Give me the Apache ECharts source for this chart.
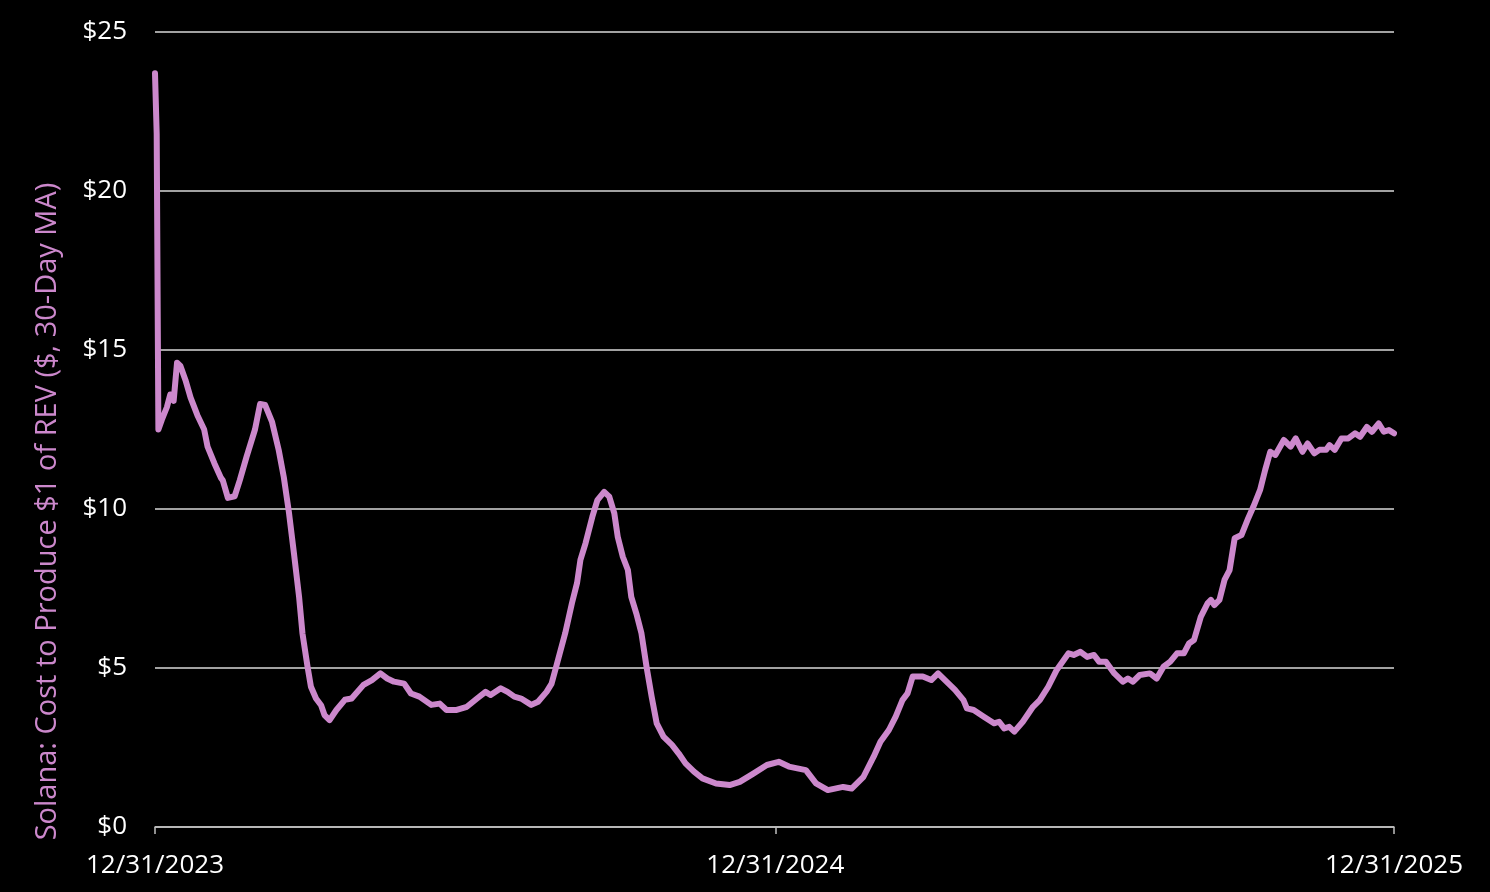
<!DOCTYPE html>
<html>
<head>
<meta charset="utf-8">
<title>Solana: Cost to Produce $1 of REV</title>
<script src="https://cdn.jsdelivr.net/npm/echarts@6/dist/echarts.min.js"></script>
<style>
  html, body { margin: 0; padding: 0; background: #000; }
  #chart { width: 1490px; height: 892px; }
</style>
</head>
<body>
<div id="chart"></div>
<script>
// days since 12/31/2023 and the 30-day MA cost value ($)
const startDate = '2023-12-31'
const dayOffsets = [
  0, 1, 2, 4, 7, 9, 11, 13, 15, 18, 21, 25, 29, 31, 35, 39, 40, 43, 47, 50,
  54, 59, 62, 65, 69, 73, 76, 79, 82, 85, 87, 90, 92, 95, 98, 100, 103, 107, 112, 116,
  123, 128, 133, 137, 141, 147, 151, 156, 163, 168, 172, 178, 184, 190, 195, 198, 204, 208, 212, 216,
  222, 226, 231, 234, 237, 242, 246, 249, 251, 254, 258, 261, 265, 268, 271, 273, 276, 279, 281, 284,
  287, 290, 293, 296, 300, 305, 309, 313, 318, 323, 331, 339, 345, 353, 361, 368, 374, 384, 390, 397,
  406, 411, 418, 424, 428, 433, 437, 441, 444, 447, 453, 458, 462, 467, 472, 477, 479, 483, 489, 495,
  498, 501, 504, 507, 512, 518, 522, 527, 532, 539, 542, 546, 550, 554, 557, 561, 566, 571, 574, 577,
  581, 587, 591, 595, 599, 603, 607, 610, 613, 617, 621, 623, 625, 628, 631, 634, 637, 641, 645, 648,
  652, 655, 658, 661, 666, 670, 673, 677, 680, 684, 687, 691, 693, 696, 700, 704, 708, 711, 715, 718,
  722, 725, 728, 731
]
const costValues = [
  23.7, 21.8, 12.5, 12.8, 13.2, 13.6, 13.4, 14.6, 14.5, 14.05, 13.5, 12.95, 12.5, 11.96, 11.44, 10.97, 10.9, 10.35, 10.4, 10.9,
  11.64, 12.5, 13.3, 13.27, 12.75, 11.85, 11.0, 9.9, 8.6, 7.24, 6.09, 5.04, 4.41, 4.04, 3.83, 3.52, 3.36, 3.68, 4.0, 4.04,
  4.47, 4.62, 4.83, 4.67, 4.57, 4.51, 4.2, 4.1, 3.84, 3.88, 3.68, 3.68, 3.78, 4.04, 4.25, 4.15, 4.36, 4.25, 4.1, 4.04,
  3.84, 3.94, 4.25, 4.51, 5.1, 6.09, 7.04, 7.67, 8.4, 8.92, 9.75, 10.28, 10.54, 10.39, 9.86, 9.13, 8.5, 8.08, 7.24, 6.71,
  6.09, 5.04, 4.1, 3.26, 2.84, 2.58, 2.31, 2.0, 1.74, 1.53, 1.37, 1.32, 1.42, 1.68, 1.95, 2.05, 1.9, 1.79, 1.37, 1.16,
  1.26, 1.21, 1.58, 2.21, 2.68, 3.05, 3.47, 3.99, 4.2, 4.73, 4.73, 4.62, 4.83, 4.57, 4.31, 3.99, 3.73, 3.68, 3.47, 3.26,
  3.31, 3.1, 3.15, 3.0, 3.31, 3.78, 3.99, 4.41, 4.94, 5.46, 5.41, 5.51, 5.35, 5.41, 5.2, 5.2, 4.83, 4.57, 4.67, 4.57,
  4.78, 4.83, 4.67, 5.04, 5.2, 5.46, 5.46, 5.77, 5.88, 6.61, 7.03, 7.14, 6.98, 7.14, 7.77, 8.08, 9.08, 9.18, 9.71, 10.07,
  10.6, 11.23, 11.8, 11.7, 12.17, 11.96, 12.22, 11.8, 12.06, 11.75, 11.86, 11.86, 12.01, 11.86, 12.22, 12.22, 12.38, 12.27, 12.58, 12.43,
  12.69, 12.43, 12.48, 12.38
]
const xTickDays = [0, 366, 731]   // 12/31/2023, 12/31/2024, 12/31/2025
const yTicks = [0, 5, 10, 15, 20, 25]

const fontFamily = '"Open Sans", "Noto Sans", sans-serif'
const lineColor = '#cc88cc'

function dayToLabel(d) {
  const t = new Date(startDate + 'T00:00:00Z')
  t.setUTCDate(t.getUTCDate() + d)
  return (t.getUTCMonth() + 1) + '/' + t.getUTCDate() + '/' + t.getUTCFullYear()
}

const seriesData = dayOffsets.map((d, i) => [d, costValues[i]])

const myChart = echarts.init(document.getElementById('chart'))
const option = {
  backgroundColor: '#000',
  animation: false,
  grid: { left: 155, right: 96, top: 32, bottom: 65, containLabel: false },
  xAxis: {
    type: 'value',
    min: 0,
    max: 731,
    splitLine: { show: false },
    axisLine: { show: true, lineStyle: { color: '#bfbfbf', width: 1.5 } },
    axisTick: {
      show: true,
      customValues: xTickDays,
      length: 7,
      lineStyle: { color: '#bfbfbf', width: 1.5 }
    },
    axisLabel: {
      customValues: xTickDays,
      formatter: v => dayToLabel(v),
      color: '#fff',
      fontFamily: fontFamily,
      fontSize: 26,
      margin: 26
    }
  },
  yAxis: {
    type: 'value',
    min: 0,
    max: 25,
    interval: 5,
    name: 'Solana: Cost to Produce $1 of REV ($, 30-Day MA)',
    nameLocation: 'middle',
    nameGap: 93,
    nameTextStyle: {
      color: lineColor,
      fontFamily: fontFamily,
      fontSize: 29,
      padding: [0, 164, 0, 0]
    },
    axisLine: { show: false },
    axisTick: { show: false },
    splitLine: { lineStyle: { color: '#d9d9d9', width: 1.5 } },
    axisLabel: {
      color: '#fff',
      fontFamily: fontFamily,
      fontSize: 26,
      margin: 28,
      formatter: v => '$' + v
    }
  },
  series: [
    {
      name: 'Cost to Produce $1 of REV',
      type: 'line',
      data: seriesData,
      showSymbol: false,
      smooth: false,
      lineStyle: { color: lineColor, width: 6, join: 'round', cap: 'round' },
      itemStyle: { color: lineColor }
    }
  ]
}
option && myChart.setOption(option)
</script>
</body>
</html>
